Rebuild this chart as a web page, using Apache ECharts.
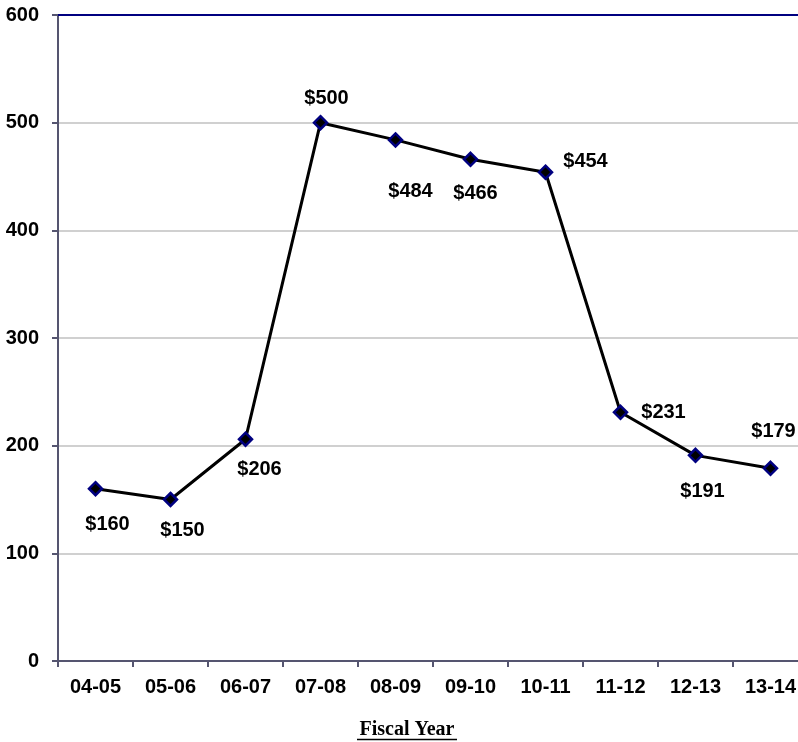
<!DOCTYPE html>
<html>
<head>
<meta charset="utf-8">
<script src="https://cdn.jsdelivr.net/npm/echarts@6/dist/echarts.min.js"></script>
<style>
  html, body { margin: 0; padding: 0; background: #fff; }
  #chart { width: 798px; height: 742px; }
</style>
</head>
<body>
<div id="chart"></div>
<script>
// Fiscal years and the amount for each year (dollars)
var fiscalYears = ['04-05', '05-06', '06-07', '07-08', '08-09', '09-10', '10-11', '11-12', '12-13', '13-14'];
var amounts = [160, 150, 206, 500, 484, 466, 454, 231, 191, 179];
var yTicks = [0, 100, 200, 300, 400, 500, 600];

// Where each value label sits relative to its point (x, y pixel offsets)
var labelOffsets = [
  [12, 36], [12, 31], [14, 30], [6, -24], [15, 52],
  [5, 34], [40, -11], [43, 0], [7, 36], [3, -37]
];

var chart = echarts.init(document.getElementById('chart'), null, { renderer: 'canvas' });

var seriesData = amounts.map(function (v, i) {
  return {
    value: v,
    label: { position: 'inside', offset: labelOffsets[i] }
  };
});

var labelFont = 'Arial, "Liberation Sans", sans-serif';

chart.setOption({
  animation: false,
  backgroundColor: '#ffffff',
  // the plot runs a little past the right edge of the canvas
  grid: { left: 58, top: 15, right: -10, bottom: 81, containLabel: false, outerBoundsMode: 'none' },
  xAxis: [{
    type: 'category',
    data: fiscalYears,
    boundaryGap: true,
    axisLine: { lineStyle: { color: '#555570', width: 2 } },
    axisTick: { show: true, length: 6, lineStyle: { color: '#555570', width: 2 } },
    axisLabel: { color: '#000', fontSize: 20, fontWeight: 'bold', fontFamily: labelFont, margin: 16 },
    splitLine: { show: false }
  }, {
    type: 'category',
    data: fiscalYears,
    position: 'top',
    axisLine: { lineStyle: { color: '#000080', width: 2 } },
    axisTick: { show: false },
    axisLabel: { show: false }
  }],
  yAxis: {
    type: 'value',
    min: yTicks[0],
    max: yTicks[yTicks.length - 1],
    interval: 100,
    axisLine: { show: true, lineStyle: { color: '#555570', width: 2 } },
    axisTick: { show: true, length: 6, lineStyle: { color: '#555570', width: 2 } },
    axisLabel: { color: '#000', fontSize: 20, fontWeight: 'bold', fontFamily: labelFont, margin: 19 },
    splitLine: { show: true, lineStyle: { color: '#c0c0c0', width: 1.5 } }
  },
  series: [{
    type: 'line',
    data: seriesData,
    symbol: 'diamond',
    symbolSize: 13,
    lineStyle: { color: '#000', width: 3 },
    itemStyle: { color: '#000', borderColor: '#000080', borderWidth: 2.5 },
    label: {
      show: true,
      formatter: function (p) { return '$' + p.value; },
      color: '#000',
      fontSize: 20,
      fontWeight: 'bold',
      fontFamily: labelFont
    },
    z: 5
  }],
  graphic: [{
    type: 'text',
    x: 407,
    y: 730,
    style: {
      text: 'Fiscal Year',
      fill: '#000',
      align: 'center',
      verticalAlign: 'middle',
      font: 'bold 20px "Times New Roman", "Liberation Serif", serif'
    }
  }, {
    type: 'line',
    shape: { x1: 357, y1: 739.5, x2: 457, y2: 739.5 },
    style: { stroke: '#000', lineWidth: 1.5 }
  }]
});
</script>
</body>
</html>
